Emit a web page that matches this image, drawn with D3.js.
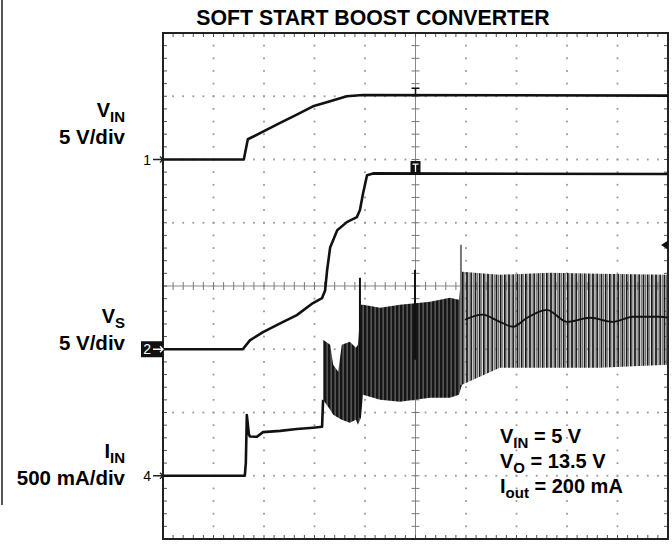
<!DOCTYPE html>
<html>
<head>
<meta charset="utf-8">
<script src="https://cdn.jsdelivr.net/npm/d3@7"></script>
<style>
  body { margin: 0; background: #fff; }
  text { font-family: "Liberation Sans", Arial, sans-serif; }
</style>
</head>
<body>
<script>
// scope traces: [time (div), value in channel units]
const vinTrace = [[0, 0], [1.60, 0], [1.66, 1.2], [1.68, 1.6], [1.98, 2.2], [2.32, 2.9], [2.65, 3.55],
  [2.97, 4.2], [3.31, 4.6], [3.64, 5.0], [3.96, 5.1], [10, 5.05]];
const vsTrace = [[0, 0], [1.58, 0], [1.72, 0.7], [1.98, 1.35], [2.32, 2.05], [2.65, 2.7], [2.97, 3.65],
  [3.15, 4.05], [3.21, 4.65], [3.25, 6.25], [3.31, 8.05], [3.45, 9.4], [3.64, 10.05], [3.84, 10.45],
  [3.90, 11.0], [3.96, 12.3], [4.04, 13.75], [4.16, 13.9], [10, 13.85]];
const iinTrace = [[0, 0], [1.62, 0], [1.64, 100], [1.66, 480], [1.70, 330], [1.72, 310], [1.86, 308],
  [1.98, 345], [2.32, 355], [2.65, 370], [2.97, 380], [3.15, 387], [3.17, 600]];

// switching ripple on IIN (mA): envelope
const rippleT  = [3.17, 3.31, 3.37, 3.47, 3.54, 3.70, 3.82, 3.86, 3.92, 3.96, 4.30, 4.69, 5.29, 5.68, 5.86, 5.92, 6.67, 7.66, 8.65, 10];
const rippleHi = [1075, 1036, 877, 822, 1036, 1059, 1012, 1036, 1352, 1352, 1328, 1352, 1375, 1407, 1391, 1613, 1589, 1605, 1597, 1589];
const rippleLo = [601, 522, 482, 458, 443, 419, 443, 403, 458, 640, 601, 585, 617, 617, 640, 719, 854, 854, 854, 877];
const rippleMidT = [5.98, 6.32, 6.67, 6.93, 7.21, 7.60, 8.0, 8.46, 8.91, 9.31, 9.84, 10];
const rippleMid  = [1233, 1273, 1217, 1178, 1249, 1312, 1217, 1249, 1217, 1257, 1257, 1250];
const spikeT  = [3.90, 4.99, 5.90];
const spikeHi = [1565, 1628, 1826];
const spikeLo = [458, 917, 719];

const channelLabels = [
  {name: "V", sub: "IN", scale: "5 V/div", y: 117},
  {name: "V", sub: "S", scale: "5 V/div", y: 323},
  {name: "I", sub: "IN", scale: "500 mA/div", y: 458}
];
const notes = [["V", "IN", " = 5 V"], ["V", "O", " = 13.5 V"], ["I", "out", " = 200 mA"]];

const W = 672, H = 544;
const svg = d3.select("body").append("svg").attr("width", W).attr("height", H);

const x = d3.scaleLinear().domain([0, 10]).range([163, 668]);
const y = d3.scaleLinear().domain([-4, 4]).range([539, 33]);
function chScale(offset, perDiv) {
  return d3.scaleLinear().domain([0, perDiv]).range([y(offset), y(offset + 1)]);
}
const yVin = chScale(2, 5), yVs = chScale(-1, 5), yIin = chScale(-3, 500);

const defs = svg.append("defs");
const dense = defs.append("pattern").attr("id", "dense").attr("patternUnits", "userSpaceOnUse")
  .attr("width", 4).attr("height", 10);
dense.append("rect").attr("width", 4).attr("height", 10).attr("fill", "#151515");
dense.append("rect").attr("x", 2.6).attr("width", 1).attr("height", 10).attr("fill", "#7a7a7a");
const stripes = defs.append("pattern").attr("id", "stripes").attr("patternUnits", "userSpaceOnUse")
  .attr("width", 4.2).attr("height", 10);
stripes.append("rect").attr("width", 1.6).attr("height", 10).attr("fill", "#111");
stripes.append("rect").attr("x", 2.2).attr("width", 1.3).attr("height", 10).attr("fill", "#6e6e6e");

// left page rule
svg.append("line").attr("x1", 2).attr("x2", 2).attr("y1", 0).attr("y2", 505)
  .style("stroke", "#555").style("stroke-width", 2);

// title
svg.append("text").attr("x", 373).attr("y", 25).attr("text-anchor", "middle")
  .style("font-size", "21.3px").style("font-weight", "bold").text("SOFT START BOOST CONVERTER");

// grid dots
const minorX = x.ticks(50), minorY = y.ticks(40);
const g = svg.append("g");
d3.range(1, 10).filter(d => d !== 5).forEach(mx => {
  g.selectAll(null).data(minorY).enter().append("rect")
    .attr("x", x(mx) - 0.9).attr("y", d => y(d) - 0.9).attr("width", 1.8).attr("height", 1.8)
    .attr("fill", "#999");
});
d3.range(-3, 4).filter(d => d !== 0).forEach(my => {
  g.selectAll(null).data(minorX).enter().append("rect")
    .attr("x", d => x(d) - 0.9).attr("y", y(my) - 0.9).attr("width", 1.8).attr("height", 1.8)
    .attr("fill", "#999");
});

// centre cross with ticks
g.append("line").attr("x1", x(5)).attr("x2", x(5)).attr("y1", y(4)).attr("y2", y(-4))
  .style("stroke", "#888").style("stroke-width", 1);
g.append("line").attr("x1", x(0)).attr("x2", x(10)).attr("y1", y(0)).attr("y2", y(0))
  .style("stroke", "#888").style("stroke-width", 1);
g.selectAll(null).data(minorY).enter().append("line")
  .attr("x1", x(5) - 4).attr("x2", x(5) + 4).attr("y1", d => y(d)).attr("y2", d => y(d))
  .style("stroke", "#777");
g.selectAll(null).data(minorX).enter().append("line")
  .attr("x1", d => x(d)).attr("x2", d => x(d)).attr("y1", y(0) - 4).attr("y2", y(0) + 4)
  .style("stroke", "#777");

// edge ticks
g.selectAll(null).data(minorX).enter().append("path")
  .attr("d", d => `M${x(d)},${y(4)}v4M${x(d)},${y(-4)}v-4`).style("stroke", "#555");
g.selectAll(null).data(minorY).enter().append("path")
  .attr("d", d => `M${x(0)},${y(d)}h4M${x(10)},${y(d)}h-4`).style("stroke", "#555");

// frame
svg.append("rect").attr("x", x(0)).attr("y", y(4)).attr("width", x(10) - x(0)).attr("height", y(-4) - y(4))
  .attr("fill", "none").style("stroke", "#222").style("stroke-width", 2);

// traces
function trace(data, ys) {
  svg.append("path").datum(data)
    .attr("d", d3.line().x(d => x(d[0])).y(d => ys(d[1])))
    .attr("fill", "none").style("stroke", "#111").style("stroke-width", 2.6)
    .style("stroke-linejoin", "round");
}
trace(vinTrace, yVin);
trace(vsTrace, yVs);
trace(iinTrace, yIin);

// ripple
const rip = rippleT.map((t, i) => [t, rippleHi[i], rippleLo[i]]);
const area = d3.area().x(d => x(d[0])).y0(d => yIin(d[2])).y1(d => yIin(d[1]));
svg.append("path").datum(rip.filter(d => d[0] <= 5.92)).attr("d", area).attr("fill", "url(#dense)");
svg.append("path").datum(rip.filter(d => d[0] >= 5.92)).attr("d", area).attr("fill", "url(#stripes)");
svg.selectAll(null).data(spikeT).enter().append("line")
  .attr("x1", d => x(d)).attr("x2", d => x(d))
  .attr("y1", (d, i) => yIin(spikeHi[i])).attr("y2", (d, i) => yIin(spikeLo[i]))
  .style("stroke", (d, i) => i === 2 ? "#777" : "#111").style("stroke-width", 2);
svg.append("path").datum(rippleMidT.map((t, i) => [t, rippleMid[i]]))
  .attr("d", d3.line().x(d => x(d[0])).y(d => yIin(d[1])).curve(d3.curveMonotoneX))
  .attr("fill", "none").style("stroke", "#111").style("stroke-width", 1.8);

// channel markers
function arrow(yy, col) {
  svg.append("path").attr("d", `M${x(0) - 10},${yy}H${x(0)}M${x(0) - 3},${yy - 3}L${x(0)},${yy}L${x(0) - 3},${yy + 3}`)
    .attr("fill", "none").style("stroke", col).style("stroke-width", 1.3);
}
svg.append("text").attr("x", 151).attr("y", yVin(0) + 5).attr("text-anchor", "end").style("font-size", "14px").text("1");
arrow(yVin(0), "#222");
svg.append("rect").attr("x", 141).attr("y", yVs(0) - 8).attr("width", 22).attr("height", 16).attr("fill", "#111");
svg.append("text").attr("x", 151).attr("y", yVs(0) + 5).attr("text-anchor", "end").attr("fill", "#fff")
  .style("font-size", "14px").text("2");
arrow(yVs(0), "#fff");
svg.append("text").attr("x", 151).attr("y", yIin(0) + 5).attr("text-anchor", "end").style("font-size", "14px").text("4");
arrow(yIin(0), "#222");

// trigger markers
const trigY = y(0.65);
svg.append("path").attr("d", `M${x(10) - 7},${trigY}L${x(10)},${trigY - 4.5}L${x(10)},${trigY + 4.5}Z`).attr("fill", "#111");
svg.append("path").attr("d", `M${x(5) - 4},${yVin(5) - 8}h8M${x(5)},${yVin(5) - 8}v8`)
  .style("stroke", "#111").style("stroke-width", 1.5);
svg.append("rect").attr("x", x(5) - 5).attr("y", yVs(13.85) - 13).attr("width", 10).attr("height", 13).attr("fill", "#111");
svg.append("path").attr("d", `M${x(5) - 3},${yVs(13.85) - 10}h6M${x(5)},${yVs(13.85) - 10}v8`)
  .style("stroke", "#fff").style("stroke-width", 1.3);

// channel labels
channelLabels.forEach(c => {
  const t = svg.append("text").attr("x", 125).attr("y", c.y).attr("text-anchor", "end")
    .style("font-size", "20px").style("font-weight", "bold");
  t.append("tspan").text(c.name);
  t.append("tspan").attr("dy", 5).style("font-size", "15px").text(c.sub);
  svg.append("text").attr("x", 125).attr("y", c.y + 27).attr("text-anchor", "end")
    .style("font-size", "20.5px").style("font-weight", "bold").text(c.scale);
});

// conditions
notes.forEach((n, i) => {
  const t = svg.append("text").attr("x", 500).attr("y", 443 + i * 25)
    .style("font-size", "20px").style("font-weight", "bold");
  t.append("tspan").text(n[0]);
  t.append("tspan").attr("dy", 5).style("font-size", "15px").text(n[1]);
  t.append("tspan").attr("dy", -5).text(n[2]);
});
</script>
</body>
</html>
